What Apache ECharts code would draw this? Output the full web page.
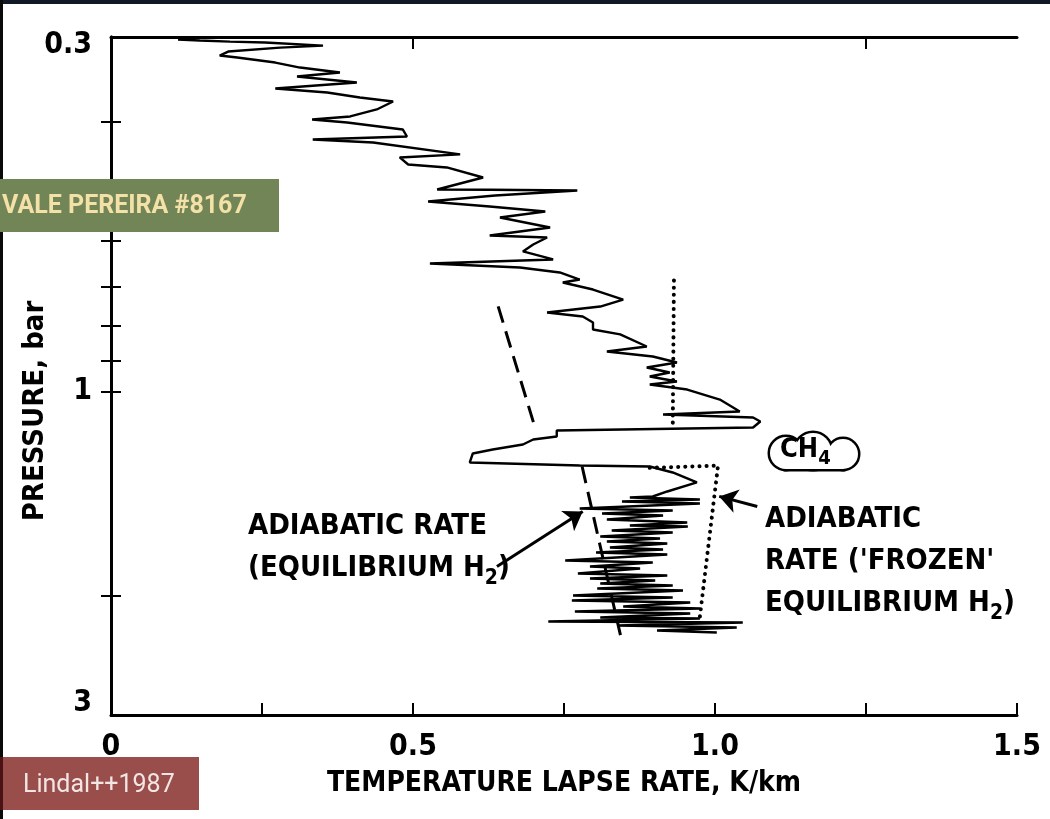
<!DOCTYPE html>
<html><head><meta charset="utf-8">
<script src="https://cdn.jsdelivr.net/npm/echarts@6/dist/echarts.min.js"></script>
<style>html,body{margin:0;padding:0;background:#fff}#c{width:1050px;height:819px}</style>
</head><body><div id="c"></div>
<script>
const lapseRate = [0.111,0.147,0.197,0.255,0.351,0.280,0.194,0.180,0.209,0.272,0.313,0.379,0.308,0.407,0.272,0.358,0.412,0.467,0.440,0.396,0.333,0.391,0.483,0.490,0.334,0.434,0.578,0.478,0.492,0.556,0.616,0.540,0.627,0.772,0.636,0.525,0.627,0.719,0.644,0.727,0.627,0.722,0.699,0.682,0.732,0.528,0.677,0.743,0.776,0.748,0.798,0.848,0.810,0.722,0.781,0.798,0.798,0.843,0.887,0.821,0.897,0.937,0.887,0.925,0.892,0.937,0.892,0.954,1.008,1.041,0.914,1.063,1.075,1.063,0.738,0.738,0.699,0.682,0.632,0.599,0.594,0.776,0.892,0.930,0.970,0.921,0.897,0.859,0.975,
  0.846,0.975,0.776,0.930,0.813,0.914,0.821,0.954,0.859,0.955,0.829,0.930,0.810,0.909,0.821,0.921,0.826,0.914,0.803,0.921,0.752,0.897,0.793,0.876,0.773,0.921,0.793,0.901,0.810,0.930,0.805,0.947,0.765,0.930,0.763,0.959,0.848,0.975,0.768,0.959,0.810,0.975,0.724,1.046,0.838,1.036,0.904,1.003];
const pressure = [0.3026,0.3036,0.3047,0.3057,0.3089,0.3110,0.3152,0.3195,0.3217,0.3272,0.3328,0.3385,0.3431,0.3501,0.3573,0.3622,0.3684,0.3735,0.3837,0.3929,0.3970,0.4010,0.4107,0.4206,0.4249,0.4292,0.4470,0.4516,0.4625,0.4672,0.4834,0.5035,0.5040,0.5052,0.5139,0.5245,0.5335,0.5426,0.5538,0.5729,0.5887,0.5927,0.6069,0.6215,0.6386,0.6474,0.6562,0.6675,0.6836,0.6906,0.7073,0.7317,0.7493,0.7648,0.7752,0.7911,0.8100,0.8238,0.8582,0.8730,0.8880,0.9061,0.9217,0.9375,0.9504,0.9667,0.9765,0.9933,1.0276,1.0703,1.0812,1.0924,1.1074,1.1300,1.1416,1.1651,1.1770,1.1972,1.2176,1.2343,1.2726,1.2856,1.2900,1.3165,1.3618,1.4043,1.4284,1.4332,1.4430,
  1.4530,1.4630,1.4880,1.4979,1.5134,1.5238,1.5447,1.5604,1.5763,1.5816,1.6032,1.6142,1.6364,1.6475,1.6643,1.6757,1.6986,1.7102,1.7278,1.7396,1.7754,1.7873,1.8118,1.8242,1.8553,1.8680,1.8871,1.8999,1.9193,1.9325,1.9522,1.9655,1.9992,2.0129,2.0334,2.0472,2.0754,2.0896,2.1113,2.1255,2.1544,2.1617,2.1837,2.1912,2.2136,2.2288,2.2517,2.2672];

// Adiabatic rate, equilibrium H2 (dashed), two segments
const eqUpperRate = [0.641, 0.702];
const eqUpperPressure = [0.749, 1.130];
const eqLowerRate = [0.780, 0.845];
const eqLowerPressure = [1.290, 2.320];

// Adiabatic rate, 'frozen' equilibrium H2 (dotted)
const frozenUpperRate = [0.932, 0.930];
const frozenUpperPressure = [0.686, 1.138];
const frozenLowerRate = [0.892, 1.005, 0.975];
const frozenLowerPressure = [1.296, 1.286, 2.147];

// Annotation arrows: [from, to]
const arrowEqRate = [0.639, 0.781];
const arrowEqPressure = [1.812, 1.503];
const arrowFrozenRate = [1.070, 1.007];
const arrowFrozenPressure = [1.478, 1.428];

// Axis ticks / labels
const xTickValues = [0, 0.25, 0.5, 0.75, 1.0, 1.25, 1.5];
const xTopTickValues = [0.5, 1.25];
const xLabelValues = [0, 0.5, 1.0, 1.5];
const yTickValues = [0.4, 0.5, 0.6, 0.7, 0.8, 0.9, 1, 2];
const yLabelValues = [0.3, 1, 3];

function pairs(a, b) { return a.map((v, i) => [v, b[i]]); }

const FONT = "'DejaVu Sans Condensed', 'Liberation Sans Narrow', sans-serif";
const axisLine = {show: true, lineStyle: {color: '#000', width: 3}};
const tickStyle = {color: '#000', width: 2};
const lblBase = {fontSize: 30, fontWeight: 'bold', fontFamily: FONT, color: '#000'};
const subRich = {s: {fontSize: 21, fontWeight: 'bold', fontFamily: FONT, fill: '#000', verticalAlign: 'bottom', lineHeight: 42}};

// cloud outline around CH4 (union of lobes: stroked layer, then white fill layer)
const cloudParts = [
  {type: 'circle', shape: {cx: 786, cy: 453, r: 16}},
  {type: 'circle', shape: {cx: 813, cy: 451, r: 18}},
  {type: 'circle', shape: {cx: 843, cy: 454, r: 15}},
  {type: 'rect', shape: {x: 786, y: 446, width: 57, height: 23}}
];
const cloudGraphics = [];
cloudParts.forEach(p => cloudGraphics.push(Object.assign({}, p, {z: 10, style: {fill: '#fff', stroke: '#000', lineWidth: 5}})));
cloudParts.forEach(p => cloudGraphics.push(Object.assign({}, p, {z: 10, style: {fill: '#fff'}})));

const chart = echarts.init(document.getElementById('c'), null, {renderer: 'canvas'});
chart.setOption({
  backgroundColor: '#fff',
  animation: false,
  grid: {left: 111, right: 33, top: 37, bottom: 104, containLabel: false},
  xAxis: [{
    type: 'value', min: 0, max: 1.5, interval: 0.25,
    axisLine: axisLine,
    axisTick: {show: true, inside: true, length: 12, customValues: xTickValues, lineStyle: tickStyle},
    axisLabel: Object.assign({customValues: xLabelValues, formatter: v => v === 0 ? '0' : v.toFixed(1), margin: 17}, lblBase),
    splitLine: {show: false},
    name: 'TEMPERATURE LAPSE RATE, K/km', nameLocation: 'middle', nameGap: 55,
    nameTextStyle: {fontSize: 28, fontWeight: 'bold', color: '#000', fontFamily: FONT}
  }, {
    type: 'value', position: 'top', min: 0, max: 1.5, interval: 0.25,
    axisLine: axisLine,
    axisTick: {show: true, inside: true, length: 12, customValues: xTopTickValues, lineStyle: tickStyle},
    axisLabel: {show: false}, splitLine: {show: false}
  }],
  yAxis: [{
    type: 'log', logBase: 10, min: 0.3, max: 3, inverse: true,
    axisLine: axisLine,
    axisTick: {show: true, inside: true, length: 10, customValues: yTickValues, lineStyle: tickStyle},
    axisLabel: Object.assign({customValues: yLabelValues, margin: 19,
      formatter: v => { const s = String(Math.round(v * 10) / 10); return s === '0.3' ? '{t|0.3}' : (s === '3' ? '{b|3}' : s); },
      rich: {t: Object.assign({padding: [16, 0, 0, 0]}, lblBase), b: Object.assign({padding: [0, 0, 24, 0]}, lblBase)}}, lblBase),
    splitLine: {show: false}, minorTick: {show: false}
  }, {
    type: 'log', logBase: 10, min: 0.3, max: 3, inverse: true, position: 'right',
    axisLine: axisLine,
    axisTick: {show: true, inside: true, length: 10, customValues: yTickValues, lineStyle: tickStyle},
    axisLabel: {show: false}, splitLine: {show: false}
  }],
  series: [
    {type: 'line', data: pairs(lapseRate, pressure), showSymbol: false, symbol: 'none',
      lineStyle: {color: '#000', width: 2.4}, z: 3},
    {type: 'line', data: pairs(eqUpperRate, eqUpperPressure), symbol: 'none',
      lineStyle: {color: '#000', width: 3, type: [17, 9]}},
    {type: 'line', data: pairs(eqLowerRate, eqLowerPressure), symbol: 'none',
      lineStyle: {color: '#000', width: 3, type: [17, 9]}},
    {type: 'line', data: pairs(frozenUpperRate, frozenUpperPressure), symbol: 'none',
      lineStyle: {color: '#000', width: 4, type: [0.1, 7], cap: 'round'}},
    {type: 'line', data: pairs(frozenLowerRate, frozenLowerPressure), symbol: 'none',
      lineStyle: {color: '#000', width: 4, type: [0.1, 7], cap: 'round'}},
    {type: 'lines', coordinateSystem: 'cartesian2d', symbol: ['none', 'arrow'], symbolSize: [0, 18],
      lineStyle: {color: '#000', width: 3, opacity: 1},
      data: [{coords: pairs(arrowEqRate, arrowEqPressure)}, {coords: pairs(arrowFrozenRate, arrowFrozenPressure)}], z: 4}
  ],
  graphic: [
    {type: 'text', x: 35, y: 411, rotation: Math.PI / 2,
      style: {text: 'PRESSURE, bar', fontSize: 29, fontWeight: 'bold', fontFamily: FONT, fill: '#000', align: 'center', verticalAlign: 'middle'}},
    {type: 'text', x: 248, y: 505,
      style: {text: 'ADIABATIC RATE\n(EQUILIBRIUM H{s|2})', rich: subRich, fontSize: 29, fontWeight: 'bold', lineHeight: 42, fontFamily: FONT, fill: '#000', align: 'left', verticalAlign: 'top'}},
    {type: 'text', x: 765, y: 498,
      style: {text: 'ADIABATIC\nRATE (\'FROZEN\'\nEQUILIBRIUM H{s|2})', rich: subRich, fontSize: 29, fontWeight: 'bold', lineHeight: 42, fontFamily: FONT, fill: '#000', align: 'left', verticalAlign: 'top'}}
  ].concat(cloudGraphics).concat([
    {type: 'text', x: 780, y: 431, z: 11,
      style: {text: 'CH{s|4}', rich: {s: {fontSize: 20, fontWeight: 'bold', fontFamily: FONT, fill: '#000', verticalAlign: 'bottom', lineHeight: 38}}, fontSize: 27, fontWeight: 'bold', lineHeight: 38, fontFamily: FONT, fill: '#000', align: 'left', verticalAlign: 'top'}},
    // photo frame edges
    {type: 'rect', shape: {x: 0, y: 0, width: 1050, height: 4}, style: {fill: '#111a24'}, z: 20},
    {type: 'rect', shape: {x: 0, y: 0, width: 3, height: 819}, style: {fill: '#0a0a0a'}, z: 20},
    // overlay tags
    {type: 'rect', shape: {x: 0, y: 179, width: 279, height: 53}, style: {fill: '#728557'}, z: 30},
    {type: 'text', x: 2, y: 207, z: 31,
      style: {text: 'VALE PEREIRA #8167', fontSize: 25, fontWeight: 'bold', fontFamily: 'Roboto, sans-serif', fill: '#f3e1a7', align: 'left', verticalAlign: 'middle'}},
    {type: 'rect', shape: {x: 0, y: 757, width: 199, height: 53}, style: {fill: '#9a4e4c'}, z: 30},
    {type: 'rect', shape: {x: 0, y: 757, width: 3, height: 53}, style: {fill: '#4a1212'}, z: 31},
    {type: 'text', x: 23, y: 786, z: 31,
      style: {text: 'Lindal++1987', fontSize: 25, fontFamily: 'Roboto, sans-serif', fill: '#f1e6e4', align: 'left', verticalAlign: 'middle'}}
  ])
});
</script>
</body></html>
